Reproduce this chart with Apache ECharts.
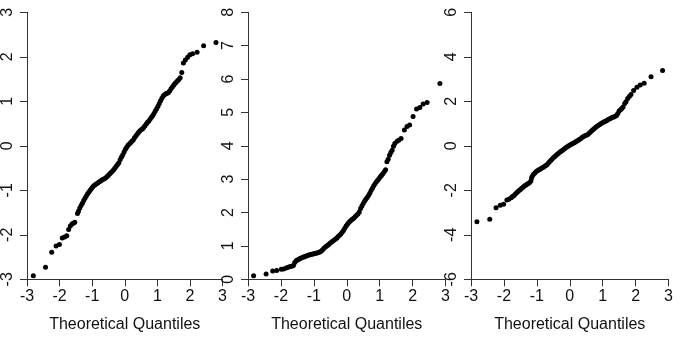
<!DOCTYPE html>
<html>
<head>
<meta charset="utf-8">
<script src="https://cdn.jsdelivr.net/npm/echarts@6/dist/echarts.min.js"></script>
<style>
html,body{margin:0;padding:0;background:#fff;}
#c{width:694px;height:356px;}
</style>
</head>
<body>
<div id="c"></div>
<script>
// Panel 1: [theoretical quantile, sample value]
var panel1 = [
[-2.807,-2.92],[-2.432,-2.73],[-2.241,-2.39],[-2.108,-2.25],[-2.005,-2.22],[-1.919,-2.07],[-1.846,-2.05],[-1.780,-2.02],[-1.722,-1.88],[-1.670,-1.80],[-1.621,-1.76],[-1.576,-1.74],[-1.534,-1.72],
[-1.45,-1.52],[-1.42,-1.47],[-1.38,-1.40],[-1.34,-1.34],[-1.30,-1.29],[-1.26,-1.23],[-1.22,-1.18],[-1.18,-1.13],[-1.14,-1.08],[-1.10,-1.04],[-1.06,-1.00],[-1.02,-0.96],[-0.98,-0.92],[-0.94,-0.89],[-0.90,-0.87],[-0.86,-0.85],[-0.82,-0.83],[-0.78,-0.81],[-0.74,-0.79],[-0.70,-0.77],[-0.66,-0.75],[-0.62,-0.74],[-0.58,-0.72],[-0.54,-0.69],[-0.50,-0.66],[-0.46,-0.63],[-0.42,-0.60],[-0.38,-0.57],[-0.34,-0.54],[-0.30,-0.50],[-0.26,-0.46],[-0.22,-0.42],[-0.18,-0.38],[-0.14,-0.31],[-0.10,-0.25],[-0.06,-0.20],[-0.02,-0.14],[0.02,-0.08],[0.06,-0.03],[0.10,0.01],[0.14,0.04],[0.18,0.07],[0.22,0.10],[0.26,0.13],[0.30,0.18],[0.34,0.22],[0.38,0.26],[0.42,0.30],[0.46,0.33],[0.50,0.36],[0.54,0.38],[0.58,0.41],[0.62,0.45],[0.66,0.49],[0.70,0.53],[0.74,0.56],[0.78,0.60],[0.82,0.64],[0.86,0.68],[0.90,0.73],[0.94,0.79],[0.98,0.83],[1.02,0.89],[1.06,0.95],[1.10,1.01],[1.14,1.07],[1.18,1.12],[1.22,1.15],[1.26,1.17],[1.30,1.18],[1.34,1.20],[1.38,1.23],[1.42,1.28],[1.46,1.32],[1.50,1.36],[1.54,1.40],[1.58,1.43],[1.62,1.46],[1.66,1.49],[1.70,1.53],
[1.75,1.65],[1.80,1.86],[1.86,1.93],[1.93,1.99],[2.00,2.045],[2.08,2.07],[2.22,2.105],[2.42,2.25],[2.80,2.32]
];
// Panel 2
var panel2 = [
[-2.83,0.11],[-2.45,0.16],[-2.25,0.25],[-2.13,0.26],[-1.99,0.30],[-1.92,0.31],[-1.84,0.34],[-1.78,0.36],[-1.72,0.38],[-1.67,0.39],[-1.62,0.41],
[-1.58,0.50],[-1.53,0.56],[-1.495,0.58],[-1.458,0.60],[-1.42,0.62],[-1.38,0.64],[-1.34,0.66],[-1.30,0.67],[-1.26,0.69],[-1.22,0.70],[-1.18,0.72],[-1.14,0.73],[-1.10,0.74],[-1.06,0.75],[-1.02,0.76],[-0.98,0.77],[-0.94,0.78],[-0.90,0.79],[-0.86,0.80],[-0.82,0.82],[-0.78,0.84],[-0.74,0.88],[-0.70,0.92],[-0.66,0.96],[-0.62,0.99],[-0.58,1.02],[-0.54,1.05],[-0.50,1.09],[-0.46,1.12],[-0.42,1.15],[-0.38,1.18],[-0.34,1.21],[-0.30,1.24],[-0.26,1.28],[-0.22,1.32],[-0.18,1.36],[-0.14,1.41],[-0.10,1.46],[-0.06,1.53],[-0.02,1.60],[0.02,1.65],[0.06,1.70],[0.10,1.74],[0.14,1.78],[0.18,1.81],[0.22,1.84],[0.26,1.88],[0.30,1.92],[0.34,1.96],[0.38,2.02],[0.42,2.12],[0.46,2.20],[0.50,2.27],[0.54,2.34],[0.58,2.40],[0.62,2.45],[0.66,2.51],[0.70,2.58],[0.74,2.66],[0.78,2.73],[0.82,2.80],[0.86,2.86],[0.90,2.92],[0.94,2.97],[0.98,3.02],[1.02,3.07],[1.06,3.12],[1.10,3.17],[1.14,3.22],[1.18,3.28],[1.22,3.52],[1.26,3.60],[1.30,3.72],[1.34,3.80],[1.38,3.87],[1.42,3.99],[1.46,4.07],
[1.53,4.14],[1.58,4.17],[1.65,4.22],[1.75,4.47],[1.83,4.58],[1.91,4.62],[2.015,4.88],[2.12,5.10],[2.22,5.15],[2.32,5.25],[2.44,5.30],[2.83,5.87]
];
// Panel 3
var panel3 = [
[-2.82,-3.41],[-2.43,-3.30],[-2.24,-2.78],[-2.11,-2.67],[-2.01,-2.63],[-1.91,-2.44],[-1.85,-2.40],[-1.78,-2.33],
[-1.74,-2.28],[-1.70,-2.24],[-1.66,-2.18],[-1.62,-2.12],[-1.58,-2.06],[-1.54,-2.01],[-1.50,-1.96],[-1.46,-1.91],[-1.42,-1.86],[-1.38,-1.81],[-1.34,-1.77],[-1.30,-1.73],[-1.26,-1.69],[-1.22,-1.65],[-1.18,-1.58],[-1.16,-1.45],[-1.14,-1.37],[-1.10,-1.28],[-1.06,-1.22],[-1.02,-1.16],[-0.98,-1.12],[-0.94,-1.08],[-0.90,-1.05],[-0.86,-1.01],[-0.82,-0.98],[-0.78,-0.94],[-0.74,-0.90],[-0.70,-0.86],[-0.66,-0.80],[-0.62,-0.73],[-0.58,-0.66],[-0.54,-0.60],[-0.50,-0.54],[-0.46,-0.49],[-0.42,-0.44],[-0.38,-0.38],[-0.34,-0.33],[-0.30,-0.28],[-0.26,-0.24],[-0.22,-0.20],[-0.18,-0.16],[-0.14,-0.11],[-0.10,-0.07],[-0.06,-0.03],[-0.02,0.01],[0.02,0.05],[0.06,0.08],[0.10,0.11],[0.14,0.14],[0.18,0.18],[0.22,0.22],[0.26,0.25],[0.30,0.29],[0.34,0.33],[0.38,0.38],[0.42,0.42],[0.46,0.45],[0.50,0.47],[0.54,0.50],[0.58,0.55],[0.62,0.61],[0.66,0.67],[0.70,0.72],[0.74,0.77],[0.78,0.82],[0.82,0.87],[0.86,0.91],[0.90,0.95],[0.94,0.99],[0.98,1.03],[1.02,1.06],[1.06,1.09],[1.10,1.12],[1.14,1.15],[1.18,1.19],[1.22,1.22],[1.26,1.25],[1.30,1.28],[1.34,1.30],[1.38,1.33],[1.42,1.36],
[1.46,1.45],[1.50,1.56],[1.54,1.62],[1.58,1.68],[1.62,1.74],
[1.67,1.90],[1.71,1.98],[1.76,2.13],[1.81,2.22],[1.86,2.31],[1.94,2.48],[2.04,2.63],[2.14,2.73],[2.26,2.81],[2.47,3.10],[2.82,3.38]
];
var xTicks = {min: -3, max: 3, interval: 1};
var yRanges = [
  {min: -3, max: 3, interval: 1},
  {min: 0, max: 8, interval: 1},
  {min: -6, max: 6, interval: 2}
];
var xTitle = 'Theoretical Quantiles';

var FONT = '"Liberation Sans", Arial, Helvetica, sans-serif';
var gridLefts = [25, 248, 471];
var axisColor = '#333';

var chart = echarts.init(document.getElementById('c'), null, {renderer: 'canvas'});
var grids = [], xAxes = [], yAxes = [], series = [];
var panels = [panel1, panel2, panel3];
for (var i = 0; i < 3; i++) {
  grids.push({left: gridLefts[i], top: 12.3, width: 197.5, height: 267, containLabel: false});
  xAxes.push({
    type: 'value', gridIndex: i, min: xTicks.min, max: xTicks.max, interval: xTicks.interval,
    name: xTitle, nameLocation: 'middle', nameGap: 37,
    nameTextStyle: {fontFamily: FONT, fontSize: 16, color: '#111'},
    axisLine: {show: true, onZero: false, lineStyle: {color: axisColor, width: 1}},
    axisTick: {show: true, length: 7, lineStyle: {color: axisColor}},
    axisLabel: {fontFamily: FONT, fontSize: 16, color: '#111', margin: 9, showMinLabel: true, showMaxLabel: true},
    splitLine: {show: false}
  });
  yAxes.push({
    type: 'value', gridIndex: i, min: yRanges[i].min, max: yRanges[i].max, interval: yRanges[i].interval,
    axisLine: {show: true, onZero: false, lineStyle: {color: axisColor, width: 1}},
    axisTick: {show: true, length: 7, lineStyle: {color: axisColor}},
    axisLabel: {fontFamily: FONT, fontSize: 16, color: '#111', rotate: 90, margin: 11, showMinLabel: true, showMaxLabel: true},
    splitLine: {show: false}
  });
  series.push({
    type: 'scatter', xAxisIndex: i, yAxisIndex: i, data: panels[i],
    symbol: 'circle', symbolSize: 5, itemStyle: {color: '#000', opacity: 1},
    silent: true
  });
}
chart.setOption({
  animation: false,
  backgroundColor: '#fff',
  grid: grids, xAxis: xAxes, yAxis: yAxes, series: series
});
</script>
</body>
</html>
